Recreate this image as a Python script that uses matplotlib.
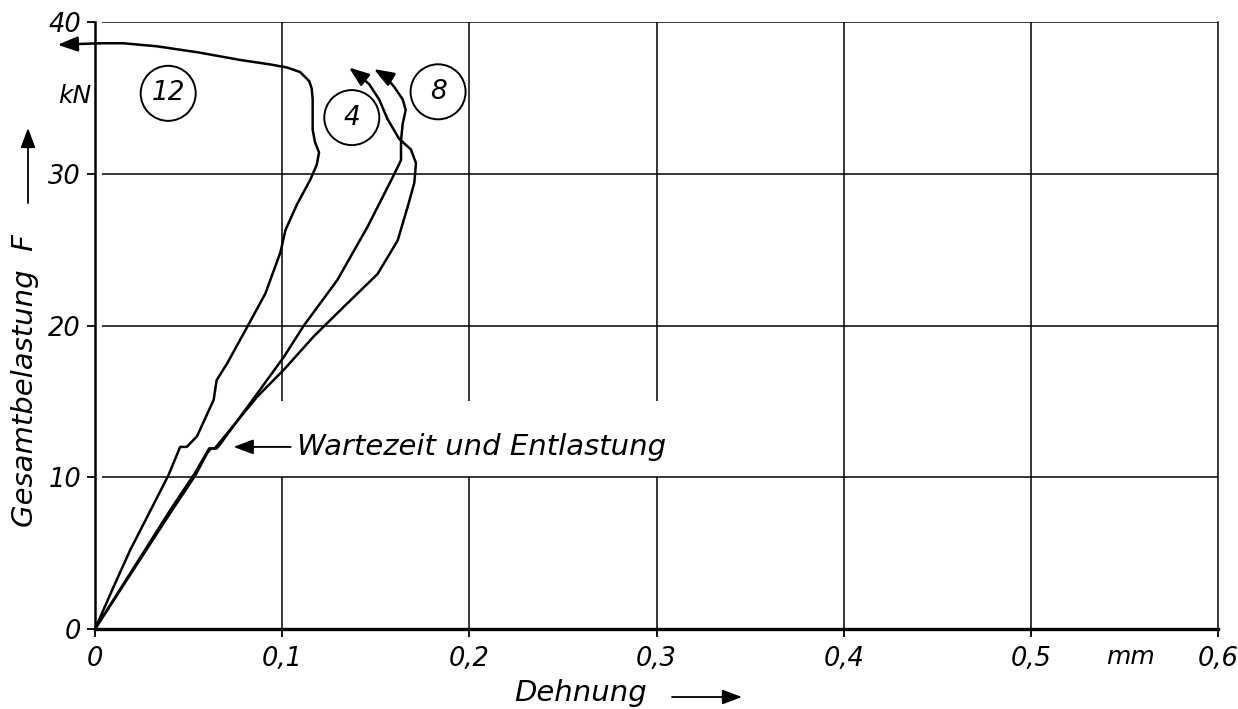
import matplotlib
matplotlib.use('Agg')
import matplotlib.pyplot as plt

# Kraft-Dehnungs-Kurven (Dehnung in mm, Gesamtbelastung F in kN)
dehnung_12 = [0, 0.010, 0.0188, 0.030, 0.0393, 0.0455, 0.049, 0.0545, 0.0634, 0.065,
              0.0706, 0.0813, 0.091, 0.099, 0.1018, 0.108, 0.115, 0.1185, 0.1197, 0.1175,
              0.1163, 0.1163, 0.1158, 0.1145, 0.1096, 0.1027, 0.0938, 0.0775, 0.055,
              0.033, 0.015, 0.0027, -0.02]
last_12 = [0, 2.8, 5.2, 7.9, 10.15, 12.0, 12.0, 12.7, 15.1, 16.4,
           17.5, 19.9, 22.1, 24.8, 26.3, 28.0, 29.6, 30.6, 31.4, 32.1,
           32.9, 34.9, 35.6, 36.1, 36.7, 37.0, 37.2, 37.5, 38.0,
           38.4, 38.6, 38.6, 38.5]

dehnung_4 = [0, 0.020, 0.040, 0.0535, 0.060, 0.062, 0.064, 0.0866, 0.101, 0.117,
             0.131, 0.151, 0.1617, 0.167, 0.1706, 0.1715, 0.1688, 0.1625, 0.1563,
             0.1518, 0.1465, 0.141, 0.1357]
last_4 = [0, 3.8, 7.6, 10.1, 11.6, 11.9, 11.9, 15.3, 17.1, 19.3,
          21.0, 23.4, 25.6, 27.8, 29.4, 30.7, 31.6, 32.3, 33.6,
          34.9, 35.9, 36.5, 37.0]

dehnung_8 = [0, 0.020, 0.040, 0.0535, 0.061, 0.065, 0.067, 0.0866, 0.101, 0.1116,
             0.1295, 0.1456, 0.160, 0.1635, 0.1635, 0.1644, 0.166, 0.1644, 0.160,
             0.1545, 0.149]
last_8 = [0, 3.9, 7.8, 10.3, 11.9, 11.9, 12.2, 15.5, 17.95, 20.0,
          23.0, 26.5, 30.0, 30.9, 32.2, 33.3, 34.2, 34.9, 35.7,
          36.5, 36.9]

kurven = [(dehnung_12, last_12), (dehnung_4, last_4), (dehnung_8, last_8)]

# Kennzeichnung der Proben (Nummer, x, F)
proben_nr = ['12', '4', '8']
proben_x = [0.0391, 0.1372, 0.1833]
proben_F = [35.3, 33.7, 35.4]

x_ticks = [0, 0.1, 0.2, 0.3, 0.4, 0.5, 0.6]
x_labels = ['0', '0,1', '0,2', '0,3', '0,4', '0,5', '0,6']
y_ticks = [0, 10, 20, 30, 40]
y_labels = ['0', '10', '20', '30', '40']

plt.rcParams['font.family'] = ['DejaVu Sans']
plt.rcParams['font.style'] = 'italic'

fig = plt.figure(figsize=(12.38, 7.09), dpi=100)
ax = fig.add_axes([95 / 1238, 80 / 709, 1123 / 1238, 607 / 709])
ax.set_xlim(0, 0.6)
ax.set_ylim(0, 40)

# Raster (bei 0,1 bis 0,3 zwischen 10 und 15 kN unterbrochen fuer den Hinweistext)
ax.hlines([10, 20, 30, 40], 0.004, 0.6, color='k', lw=1.1, zorder=1)
for xv in x_ticks[1:-1]:
    if xv <= 0.3:
        ax.vlines(xv, 0, 10, color='k', lw=1.1, zorder=1)
        ax.vlines(xv, 15, 40, color='k', lw=1.1, zorder=1)
    else:
        ax.vlines(xv, 0, 40, color='k', lw=1.1, zorder=1)

ax.spines['top'].set_visible(False)
ax.spines['right'].set_linewidth(1.1)
ax.spines['left'].set_linewidth(1.8)
ax.spines['bottom'].set_linewidth(2.4)

ax.set_xticks(x_ticks)
ax.set_xticklabels(x_labels)
ax.set_yticks(y_ticks)
ax.set_yticklabels(y_labels)
ax.tick_params(axis='both', direction='out', length=6, width=1.3, labelsize=18.5)
ax.tick_params(axis='x', pad=6)
ax.tick_params(axis='y', pad=4)

arrow_style = dict(arrowstyle='-|>,head_length=0.8,head_width=0.3',
                   mutation_scale=15, color='k', lw=1.8, shrinkA=0, shrinkB=0)

for xs, fs in kurven:
    ax.plot(xs[:-1], fs[:-1], color='k', lw=1.8, clip_on=False, zorder=3,
            solid_joinstyle='round')
    ax.annotate('', xy=(xs[-1], fs[-1]), xytext=(xs[-2], fs[-2]),
                arrowprops=arrow_style, annotation_clip=False, zorder=3)

ax.scatter(proben_x, proben_F, s=1570, facecolors='none', edgecolors='k',
           linewidths=1.4, zorder=4)
for nr, px, pf in zip(proben_nr, proben_x, proben_F):
    ax.text(px, pf, nr, fontsize=19, ha='center', va='center', zorder=5)

# Hinweis Wartezeit
ax.annotate('', xy=(0.074, 12.0), xytext=(0.1045, 12.0),
            arrowprops=dict(arrowstyle='-|>,head_length=0.8,head_width=0.3',
                            mutation_scale=15, color='k', lw=1.4,
                            shrinkA=0, shrinkB=0))
ax.text(0.108, 12.0, 'Wartezeit und Entlastung', fontsize=21,
        ha='left', va='center')

# Einheiten
ax.text(-0.0107, 35.1, 'kN', fontsize=18, ha='center', va='center', clip_on=False)
ax.text(0.553, -1.85, 'mm', fontsize=18, ha='center', va='center', clip_on=False)

# Achsenbeschriftungen mit Pfeilen
fig.text(25 / 1238, 1 - 381 / 709, 'Gesamtbelastung  F', fontsize=21,
         rotation=90, ha='center', va='center')
ax.annotate('', xy=(28 / 1238, 1 - 128 / 709), xytext=(28 / 1238, 1 - 203 / 709),
            xycoords='figure fraction', textcoords='figure fraction',
            arrowprops=dict(arrowstyle='-|>,head_length=0.8,head_width=0.3',
                            mutation_scale=15, color='k', lw=1.3,
                            shrinkA=0, shrinkB=0))
fig.text(581 / 1238, 1 - 693 / 709, 'Dehnung', fontsize=21,
         ha='center', va='center')
ax.annotate('', xy=(742 / 1238, 1 - 697 / 709), xytext=(672 / 1238, 1 - 697 / 709),
            xycoords='figure fraction', textcoords='figure fraction',
            arrowprops=dict(arrowstyle='-|>,head_length=0.8,head_width=0.3',
                            mutation_scale=15, color='k', lw=1.3,
                            shrinkA=0, shrinkB=0))

fig.savefig('out.png', dpi=100)
